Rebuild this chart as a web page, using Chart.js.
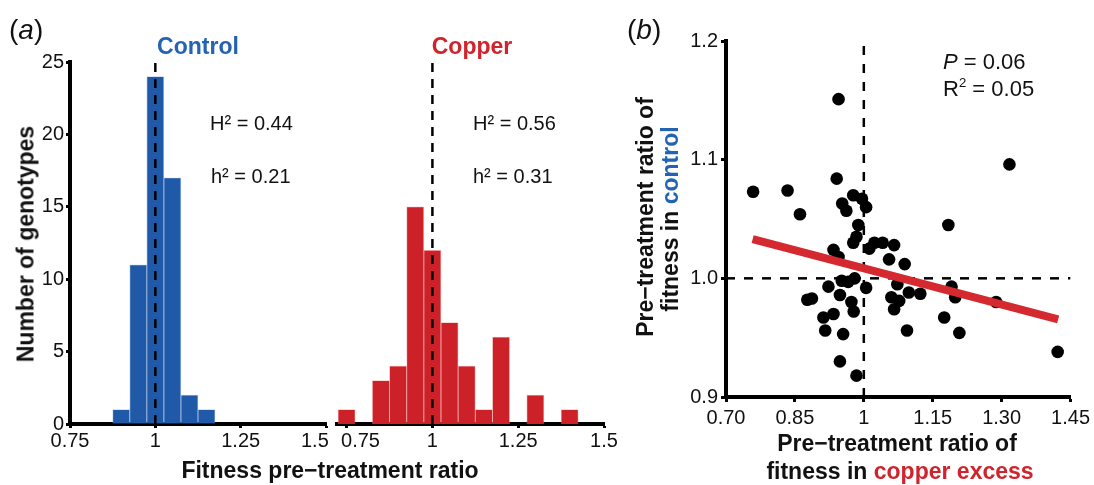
<!DOCTYPE html>
<html><head><meta charset="utf-8">
<script src="https://cdn.jsdelivr.net/npm/chart.js@4"></script>
<style>
body{margin:0;width:1094px;height:485px;background:#fff;position:relative;overflow:hidden;font-family:"Liberation Sans",Arial,sans-serif;}
canvas{position:absolute;top:0}
.t{position:absolute;white-space:nowrap;color:#111;line-height:1;}
.c{transform:translate(-50%,-50%);}
.l{transform:translate(0,-50%);}
.r{transform:translate(-50%,-50%) rotate(-90deg);}
.b{font-weight:bold;}
</style></head><body>
<canvas id="c1" width="400" height="485" style="left:0"></canvas>
<canvas id="c2" width="350" height="485" style="left:270px"></canvas>
<canvas id="c3" width="474" height="485" style="left:620px"></canvas>

<div class="t l" style="left:9px;top:30px;font-size:28px">(<i>a</i>)</div>
<div class="t l" style="left:627px;top:30px;font-size:28px">(<i>b</i>)</div>
<div class="t c b" style="left:198px;top:46px;font-size:23px;color:#2462b4">Control</div>
<div class="t c b" style="left:472px;top:46px;font-size:23px;color:#d0232c">Copper</div>
<div class="t l" style="left:210px;top:123px;font-size:20px">H² = 0.44</div>
<div class="t l" style="left:211px;top:176px;font-size:20px">h² = 0.21</div>
<div class="t l" style="left:473px;top:123px;font-size:20px">H² = 0.56</div>
<div class="t l" style="left:473px;top:176px;font-size:20px">h² = 0.31</div>
<div class="t r b" style="left:26px;top:244px;font-size:23px">Number of genotypes</div>
<div class="t c b" style="left:330px;top:470px;font-size:23px">Fitness pre−treatment ratio</div>
<div class="t l" style="left:943px;top:62px;font-size:22px"><i>P</i> = 0.06</div>
<div class="t l" style="left:943px;top:88px;font-size:22px">R<sup style="font-size:0.6em">2</sup> = 0.05</div>
<div class="t r b" style="left:645px;top:217px;font-size:23px">Pre−treatment ratio of</div>
<div class="t r b" style="left:670px;top:219px;font-size:23px">fitness in <span style="color:#2462b4">control</span></div>
<div class="t c b" style="left:897px;top:443px;font-size:23px">Pre−treatment ratio of</div>
<div class="t c b" style="left:900px;top:471px;font-size:23px">fitness in <span style="color:#d0232c">copper excess</span></div>

<script>
// ---- data ----
const binCenters = [0.75, 0.80, 0.85, 0.90, 0.95, 1.00, 1.05, 1.10, 1.15, 1.20, 1.25, 1.30, 1.35, 1.40];
const controlCounts = [0, 0, 0, 1, 11, 24, 17, 2, 1, 0, 0, 0, 0, 0];
const copperCounts  = [1, 0, 3, 4, 15, 12, 7, 4, 1, 6, 0, 2, 0, 1];
const histXTicks = [0.75, 1, 1.25, 1.5];
const controlXLabels = ["0.75", "1", "1.25", "1.5\u2007\u2007"];
const copperXLabels = ["\u2007\u2007\u20080.75", "1", "1.25", "1.5"];
const histYTicks = [0, 5, 10, 15, 20, 25];
const histYLabels = ["0", "5", "10", "15", "20", "25"];

const copperRatio = [0.945, 1.317, 0.759, 0.834, 0.861, 0.941, 1.184, 0.977, 0.953, 0.962,
  0.996, 1.005, 0.988, 0.984, 0.977, 0.934, 0.945, 0.923, 0.952, 0.966,
  0.980, 1.005, 0.948, 0.877, 0.887, 0.973, 0.978, 0.912, 0.934, 0.916,
  0.955, 0.948, 0.984, 1.023, 1.012, 1.041, 1.066, 1.055, 1.089, 1.073,
  1.098, 1.123, 1.060, 1.077, 1.066, 1.094, 1.191, 1.199, 1.175, 1.208,
  1.288, 1.422];
const controlRatio = [1.151, 1.096, 1.073, 1.074, 1.054, 1.084, 1.045, 1.070, 1.063, 1.057,
  1.067, 1.060, 1.045, 1.035, 1.030, 1.024, 1.018, 0.993, 0.998, 0.997,
  1.000, 0.992, 0.986, 0.982, 0.983, 0.980, 0.972, 0.967, 0.970, 0.956,
  0.953, 0.930, 0.918, 1.030, 1.025, 1.030, 1.028, 1.016, 1.012, 0.995,
  0.988, 0.987, 0.984, 0.981, 0.974, 0.956, 0.993, 0.984, 0.967, 0.954,
  0.980, 0.938];
const fitX = [0.758, 1.423];
const fitY = [1.033, 0.9655];
const refValue = 1;
const scatXTicks = [0.70, 0.85, 1, 1.15, 1.30, 1.45];
const scatXLabels = ["0.70", "0.85", "1", "1.15", "1.30", "1.45"];
const scatYTicks = [0.9, 1.0, 1.1, 1.2];
const scatYLabels = ["0.9", "1.0", "1.1", "1.2"];

// ---- helpers ----
const FONT = '"Liberation Sans", Arial, sans-serif';
const BLUE = '#1f59a8', RED = '#cd2129';
function axis(min, max, vals, labels, o) {
  const show = o.display !== false;
  return {
    type: 'linear', min: min, max: max, offset: false, display: show,
    grid: {display: true, drawOnChartArea: false, drawTicks: true, tickLength: o.tl, tickWidth: 3, tickColor: '#000', offset: false},
    border: {display: true, color: '#000', width: 4},
    ticks: {color: '#111', font: {family: FONT, size: o.fs}, padding: o.pad, autoSkip: false, maxRotation: 0,
      callback: (v, i) => labels[i]},
    afterBuildTicks: s => { s.ticks = vals.map(v => ({value: v})); },
    afterFit: s => {
      if (!show) { s.width = 0; s.height = 0; return; }
      if (o.w != null) s.width = o.w; if (o.h != null) s.height = o.h;
    }
  };
}
const baseOpts = {responsive: false, animation: false, devicePixelRatio: 1,
  plugins: {legend: {display: false}, tooltip: {enabled: false}}};

function histChart(id, counts, color, border, xmin, xLabels, showY, pad) {
  return new Chart(document.getElementById(id), {
    type: 'bar',
    data: {datasets: [
      {type: 'line', data: [{x: refValue, y: 0}, {x: refValue, y: 25}], borderColor: '#000', borderWidth: 2.5,
        borderDash: [9, 7], pointRadius: 0, fill: false},
      {type: 'bar', data: binCenters.map((x, i) => ({x: x, y: counts[i]})), backgroundColor: color,
        borderColor: border, borderWidth: 0.8, barPercentage: 1, categoryPercentage: 1, grouped: false}
    ]},
    options: Object.assign({}, baseOpts, {
      layout: {padding: pad},
      scales: {
        x: axis(xmin, 1.5, histXTicks, xLabels, {fs: 20, tl: 4, pad: 1, h: 61}),
        y: axis(0, 25, histYTicks, histYLabels, {fs: 20, tl: 4, pad: 2, w: 70, display: showY})
      }
    })
  });
}
histChart('c1', controlCounts, BLUE, 'rgba(120,160,220,0.5)', 0.75, controlXLabels, true, {top: 62, right: 74, left: 0, bottom: 0});
histChart('c2', copperCounts, RED, 'rgba(240,120,120,0.5)', 0.722, copperXLabels, false, {top: 62, right: 16, left: 67, bottom: 0});

new Chart(document.getElementById('c3'), {
  type: 'scatter',
  data: {datasets: [
    {type: 'line', data: fitX.map((x, i) => ({x: x, y: fitY[i]})), borderColor: '#d42a2f', borderWidth: 8,
      pointRadius: 0, fill: false, borderCapStyle: 'butt'},
    {data: copperRatio.map((x, i) => ({x: x, y: controlRatio[i]})), backgroundColor: '#000', borderWidth: 0,
      pointRadius: 6.3},
    {type: 'line', data: [{x: refValue, y: 0.9}, {x: refValue, y: 1.2}], borderColor: '#000', borderWidth: 2.5,
      borderDash: [9, 9], pointRadius: 0, fill: false},
    {type: 'line', data: [{x: 0.70, y: refValue}, {x: 1.45, y: refValue}], borderColor: '#000', borderWidth: 2.5,
      borderDash: [9, 9], pointRadius: 0, fill: false}
  ]},
  options: Object.assign({}, baseOpts, {
    layout: {padding: {top: 41, right: 19, left: 0, bottom: 0}},
    scales: {
      x: axis(0.70, 1.45, scatXTicks, scatXLabels, {fs: 20, tl: 5, pad: 4, h: 88}),
      y: axis(0.9, 1.2, scatYTicks, scatYLabels, {fs: 20, tl: 5, pad: 3, w: 106})
    }
  })
});
</script>
</body></html>
